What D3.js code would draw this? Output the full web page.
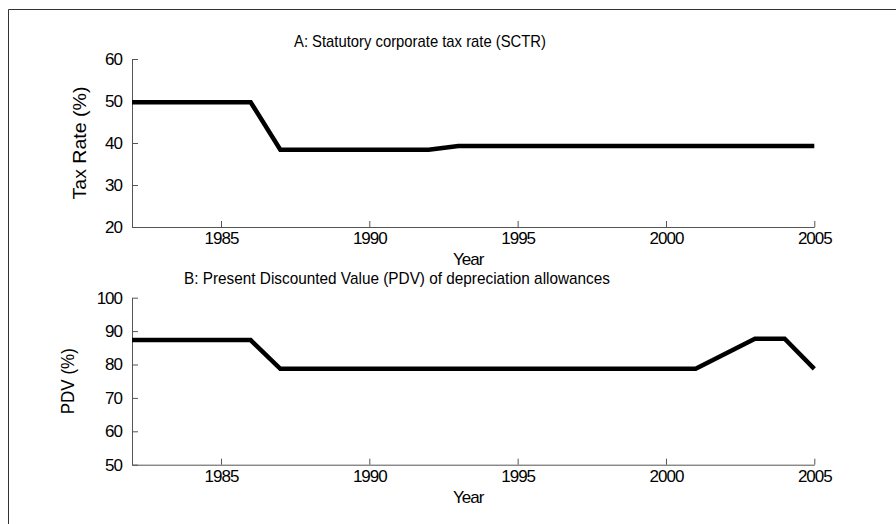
<!DOCTYPE html>
<html>
<head>
<meta charset="utf-8">
<script src="https://cdn.jsdelivr.net/npm/d3@7"></script>
<style>
    body { margin: 0; background: #fff; }
    svg { display: block; }
    text { font-family: "Liberation Sans", Arial, sans-serif; fill: #000; }
    .axis path, .axis line { stroke: #555; stroke-width: 1; }
    .axis text { font-size: 17px; letter-spacing: -1px; }
</style>
</head>
<body>
<div id="chart"></div>
<script>
// data
var years = [1982, 1983, 1984, 1985, 1986, 1987, 1988, 1989, 1990, 1991, 1992, 1993,
    1994, 1995, 1996, 1997, 1998, 1999, 2000, 2001, 2002, 2003, 2004, 2005];
var taxRate = [49.7, 49.7, 49.7, 49.7, 49.7, 38.4, 38.4, 38.4, 38.4, 38.4, 38.4, 39.3,
    39.3, 39.3, 39.3, 39.3, 39.3, 39.3, 39.3, 39.3, 39.3, 39.3, 39.3, 39.3];
var pdv = [87.3, 87.3, 87.3, 87.3, 87.3, 78.7, 78.7, 78.7, 78.7, 78.7, 78.7, 78.7,
    78.7, 78.7, 78.7, 78.7, 78.7, 78.7, 78.7, 78.7, 83.2, 87.7, 87.7, 78.7];
var xTicks = [1985, 1990, 1995, 2000, 2005];
var taxTicks = [20, 30, 40, 50, 60];
var pdvTicks = [50, 60, 70, 80, 90, 100];

(function () {
    'use strict';
    var width = 896,
        height = 524;

    var svg = d3.select('#chart')
        .append('svg')
        .attr('width', width)
        .attr('height', height);

    // figure frame (left and top edges only)
    svg.append('path')
        .attr('d', 'M8.5,' + height + 'V9.5H' + width)
        .attr('fill', 'none')
        .attr('stroke', '#333')
        .attr('stroke-width', 1);

    var x = d3.scaleLinear().domain([1982, 2005]).range([132, 814.3]);

    var panels = [
        {
            values: taxRate, ticks: taxTicks, domain: [20, 60], top: 59, bottom: 227,
            title: 'A: Statutory corporate tax rate (SCTR)', titleX: 294, titleY: 47, titleW: 252,
            ylabel: 'Tax Rate (%)', ylabelX: 86, ylabelW: 113, yearY: 265
        },
        {
            values: pdv, ticks: pdvTicks, domain: [50, 100], top: 297.7, bottom: 464.7,
            title: 'B: Present Discounted Value (PDV) of depreciation allowances', titleX: 184, titleY: 284, titleW: 426,
            ylabel: 'PDV (%)', ylabelX: 74, ylabelW: 66, yearY: 503
        }
    ];

    panels.forEach(function (p) {
        var y = d3.scaleLinear().domain(p.domain).range([p.bottom, p.top]);

        var gx = svg.append('g')
            .attr('class', 'axis')
            .attr('transform', 'translate(0,' + p.bottom + ')')
            .call(d3.axisBottom(x).tickValues(xTicks).tickFormat(d3.format('d'))
                .tickSizeInner(-6).tickSizeOuter(0));
        gx.selectAll('text').attr('y', 5).attr('dy', '0.71em');

        var gy = svg.append('g')
            .attr('class', 'axis')
            .attr('transform', 'translate(' + x.range()[0] + ',0)')
            .call(d3.axisLeft(y).tickValues(p.ticks)
                .tickSizeInner(-6).tickSizeOuter(0));
        gy.selectAll('text').attr('x', -10).attr('dy', '0.32em');

        var line = d3.line()
            .x(function (d, i) { return x(years[i]); })
            .y(function (d) { return y(d); });

        svg.append('path')
            .datum(p.values)
            .attr('d', line)
            .attr('fill', 'none')
            .attr('stroke', '#000')
            .attr('stroke-width', 4.5)
            .attr('stroke-linejoin', 'miter');

        svg.append('text')
            .attr('x', p.titleX)
            .attr('y', p.titleY)
            .attr('font-size', 17)
            .attr('textLength', p.titleW)
            .attr('lengthAdjust', 'spacingAndGlyphs')
            .text(p.title);

        svg.append('text')
            .attr('transform', 'translate(' + p.ylabelX + ',' + ((p.top + p.bottom) / 2) + ') rotate(-90)')
            .attr('text-anchor', 'middle')
            .attr('font-size', 18)
            .attr('textLength', p.ylabelW)
            .attr('lengthAdjust', 'spacingAndGlyphs')
            .text(p.ylabel);

        svg.append('text')
            .attr('x', 453)
            .attr('y', p.yearY)
            .attr('font-size', 17)
            .attr('letter-spacing', -1)
            .text('Year');
    });
})();
</script>
</body>
</html>
